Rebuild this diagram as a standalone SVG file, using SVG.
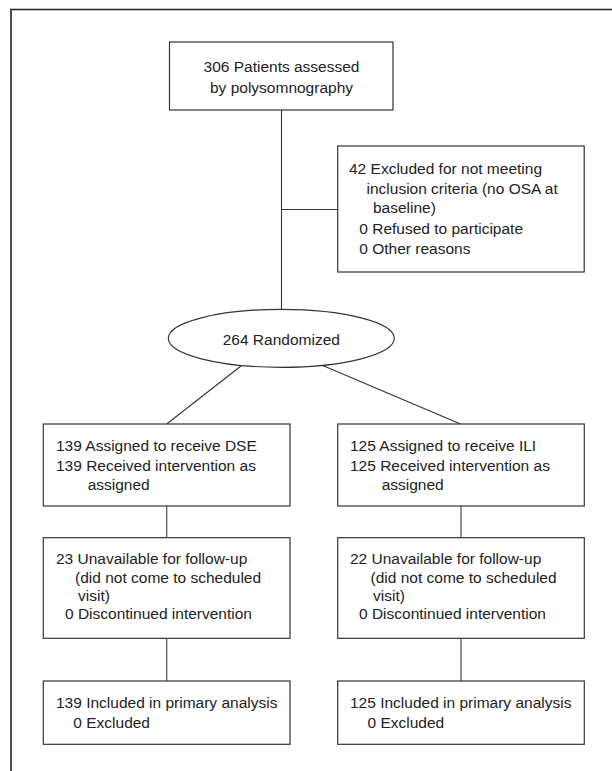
<svg xmlns="http://www.w3.org/2000/svg" width="612" height="771" viewBox="0 0 612 771">
<style>
.box{fill:#fff;stroke:#333;stroke-width:1.2}
.t{font-family:"Liberation Sans",Arial,sans-serif;font-size:15.5px;fill:#222}
.c{text-anchor:middle}
.ln{stroke:#333;stroke-width:1.1;fill:none}
.lg{stroke:#666;stroke-width:1.4;fill:none}
</style>
<rect width="612" height="771" fill="#fff"/>
<path d="M11,771 V9.5 H612" fill="none" stroke="#222" stroke-width="1.6"/>
<g id="connectors">
<line class="ln" x1="281.5" y1="110" x2="281.5" y2="309.5"/>
<line class="ln" x1="281.5" y1="209.5" x2="337.7" y2="209.5"/>
<line class="ln" x1="241" y1="366" x2="166.7" y2="424"/>
<line class="ln" x1="322.7" y1="365.5" x2="460.5" y2="424"/>
<line class="lg" x1="166.7" y1="506" x2="166.7" y2="537.7"/>
<line class="lg" x1="166.7" y1="638.3" x2="166.7" y2="681"/>
<line class="lg" x1="461" y1="506" x2="461" y2="537.7"/>
<line class="lg" x1="461" y1="638.3" x2="461" y2="681"/>
</g>
<g id="assessed">
<rect class="box" x="169.5" y="42" width="223.5" height="68"/>
<text class="t c" x="281.5" y="71.5">306 Patients assessed</text>
<text class="t c" x="281.5" y="92.5">by polysomnography</text>
</g>
<g id="excluded">
<rect class="box" x="337.7" y="146" width="246.5" height="126"/>
<text class="t" x="349" y="174">42 Excluded for not meeting</text>
<text class="t" x="366.5" y="193.5">inclusion criteria (no OSA at</text>
<text class="t" x="373" y="213">baseline)</text>
<text class="t" x="359.3" y="234">0 Refused to participate</text>
<text class="t" x="359.3" y="254">0 Other reasons</text>
</g>
<g id="randomized">
<ellipse class="box" cx="281.3" cy="338.3" rx="113" ry="29"/>
<text class="t c" x="281.3" y="345">264 Randomized</text>
</g>
<g id="dse-assigned">
<rect class="box" x="43.3" y="424" width="246.7" height="82"/>
<text class="t" x="56" y="451">139 Assigned to receive DSE</text>
<text class="t" x="56" y="471">139 Received intervention as</text>
<text class="t" x="87.7" y="490">assigned</text>
</g>
<g id="ili-assigned">
<rect class="box" x="337.7" y="424" width="246.6" height="82"/>
<text class="t" x="350" y="451">125 Assigned to receive ILI</text>
<text class="t" x="350" y="471">125 Received intervention as</text>
<text class="t" x="381.7" y="490">assigned</text>
</g>
<g id="dse-followup">
<rect class="box" x="43.3" y="537.7" width="246.7" height="100.6"/>
<text class="t" x="56" y="563.5">23 Unavailable for follow-up</text>
<text class="t" x="75" y="582.5">(did not come to scheduled</text>
<text class="t" x="78" y="600.5">visit)</text>
<text class="t" x="65" y="619">0 Discontinued intervention</text>
</g>
<g id="ili-followup">
<rect class="box" x="337.7" y="537.7" width="246.6" height="100.6"/>
<text class="t" x="350" y="563.5">22 Unavailable for follow-up</text>
<text class="t" x="370.5" y="582.5">(did not come to scheduled</text>
<text class="t" x="373" y="600.5">visit)</text>
<text class="t" x="359" y="619">0 Discontinued intervention</text>
</g>
<g id="dse-analysis">
<rect class="box" x="43.3" y="681" width="246.7" height="63.3"/>
<text class="t" x="56" y="707.5">139 Included in primary analysis</text>
<text class="t" x="73.3" y="727.5">0 Excluded</text>
</g>
<g id="ili-analysis">
<rect class="box" x="337.7" y="681" width="246.6" height="63.3"/>
<text class="t" x="350" y="707.5">125 Included in primary analysis</text>
<text class="t" x="367.5" y="727.5">0 Excluded</text>
</g>
</svg>
